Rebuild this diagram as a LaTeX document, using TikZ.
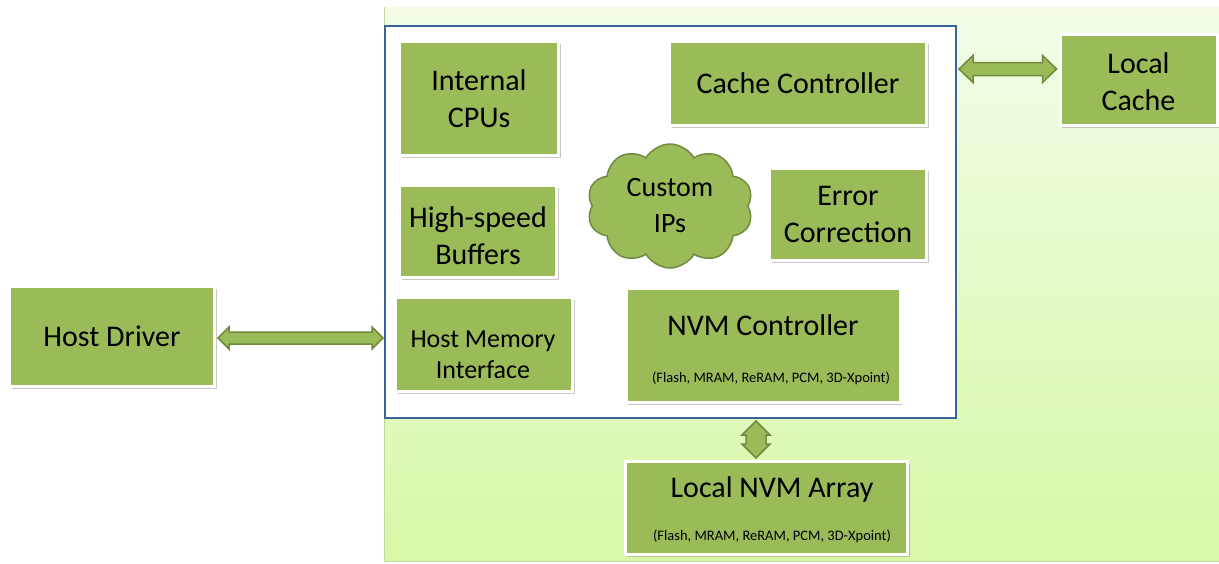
\documentclass[tikz,border=0pt]{standalone}
\usepackage{fontspec}
\setmainfont{Carlito}
\usetikzlibrary{shapes.symbols,shadows,calc}
\definecolor{boxgreen}{HTML}{9BBB59}
\definecolor{darkgreen}{HTML}{71893F}
\definecolor{framblue}{HTML}{3C6396}
\definecolor{bgtop}{HTML}{F2FCE8}
\definecolor{bgbot}{HTML}{D8F8A8}
\tikzset{
  gbox/.style={fill=boxgreen, draw=white, line width=3pt, inner sep=0pt, align=center,
    font=\fontsize{30}{37}\selectfont,
    drop shadow={shadow xshift=2pt, shadow yshift=-2.5pt, opacity=0.3, fill=black!70}},
  big/.style={font=\fontsize{30}{37}\selectfont},
  small/.style={font=\fontsize{14.5}{17}\selectfont},
  blockarrow/.style={fill=boxgreen, draw=darkgreen, line width=1.5pt, line join=miter},
}
\begin{document}
\begin{tikzpicture}[x=1pt,y=-1pt]
\useasboundingbox (0,0) rectangle (1219,563);
% background panel
\shade[top color=bgtop, bottom color=bgbot] (384,7) rectangle (1219,561);
\draw[color=boxgreen!60, line width=1pt] (384.5,7) -- (384.5,561) -- (1219,561);
% big frame
\node[draw=framblue, fill=white, line width=2pt, minimum width=571, minimum height=392, anchor=north west, inner sep=0pt] (frame) at (384,25) {};
% boxes
\node[gbox, minimum width=159, minimum height=114] (icpu) at (479,98.5) {Internal\\CPUs};
\node[gbox, minimum width=257, minimum height=84] (cache) at (798,83.5) {Cache Controller};
\node[gbox, minimum width=157, minimum height=91] (lcache) at (1138.5,79.5) {};
\node[big, align=center] (lcachet) at (1138.5,82) {Local\\Cache};
\node[gbox, minimum width=157, minimum height=92] (ecc) at (848,214.5) {Error\\Correction};
\node[gbox, minimum width=157, minimum height=92] (hsb) at (478,231.5) {};
\node[big, align=center] (hsbt) at (478,236) {High-speed\\Buffers};
\node[gbox, minimum width=177, minimum height=94] (hmi) at (484,344.5) {};
\node[align=center, font=\fontsize{26}{31}\selectfont] (hmit) at (483,355) {Host Memory\\Interface};
\node[gbox, minimum width=274, minimum height=114] (nvmc) at (763,345.5) {};
\node[big] (nvmct) at (763,325) {NVM Controller};
\node[small] (nvmcs) at (771,378) {(Flash, MRAM, ReRAM, PCM, 3D-Xpoint)};
\node[gbox, minimum width=282, minimum height=93] (lnvm) at (766.5,508) {};
\node[big] (lnvmt) at (772,489) {Local NVM Array};
\node[small] (lnvms) at (772,536) {(Flash, MRAM, ReRAM, PCM, 3D-Xpoint)};
\node[gbox, minimum width=205, minimum height=100] (hd) at (112,336.5) {Host Driver};
% cloud
\node[cloud, cloud puffs=10, cloud puff arc=120, aspect=1.35, fill=boxgreen, draw=darkgreen, line width=1.5pt,
  minimum width=166, minimum height=124, inner sep=0pt, align=center,
  font=\fontsize{28}{36}\selectfont] (cip) at (670,206) {Custom\\IPs};
% arrow anchor coordinates
\coordinate (yh) at (0,338);
\coordinate (yc) at (0,69);
\coordinate (xv) at (756,0);
\coordinate (ha) at (hd.east |- yh);
\coordinate (hb) at (frame.west |- yh);
\coordinate (ca) at (frame.east |- yc);
\coordinate (cb) at (lcache.west |- yc);
\coordinate (va) at (frame.south -| xv);
\coordinate (vb) at (lnvm.north -| xv);
% horizontal arrows: L = head length, H = half head width, S = half shaft width
\draw[blockarrow] let \p1=($(ha)+(2,0)$), \p2=($(hb)+(-1,0)$) in
  (\p1) -- (\x1+11pt,\y1-11pt) -- (\x1+11pt,\y1-6pt) -- (\x2-11pt,\y1-6pt) -- (\x2-11pt,\y1-11pt)
  -- (\p2) -- (\x2-11pt,\y1+11pt) -- (\x2-11pt,\y1+6pt) -- (\x1+11pt,\y1+6pt) -- (\x1+11pt,\y1+11pt) -- cycle;
\draw[blockarrow] let \p1=($(ca)+(2,0)$), \p2=($(cb)+(-2,0)$) in
  (\p1) -- (\x1+14pt,\y1-13.5pt) -- (\x1+14pt,\y1-6.5pt) -- (\x2-14pt,\y1-6.5pt) -- (\x2-14pt,\y1-13.5pt)
  -- (\p2) -- (\x2-14pt,\y1+13.5pt) -- (\x2-14pt,\y1+6.5pt) -- (\x1+14pt,\y1+6.5pt) -- (\x1+14pt,\y1+13.5pt) -- cycle;
% vertical arrow
\draw[blockarrow] let \p1=($(va)+(0,2)$), \p2=($(vb)+(0,-2)$) in
  (\p1) -- (\x1-14pt,\y1-14pt) -- (\x1-10pt,\y1-14pt) -- (\x1-10pt,\y2+14pt) -- (\x1-14pt,\y2+14pt)
  -- (\p2) -- (\x1+14pt,\y2+14pt) -- (\x1+10pt,\y2+14pt) -- (\x1+10pt,\y1-14pt) -- (\x1+14pt,\y1-14pt) -- cycle;
\end{tikzpicture}
\end{document}
